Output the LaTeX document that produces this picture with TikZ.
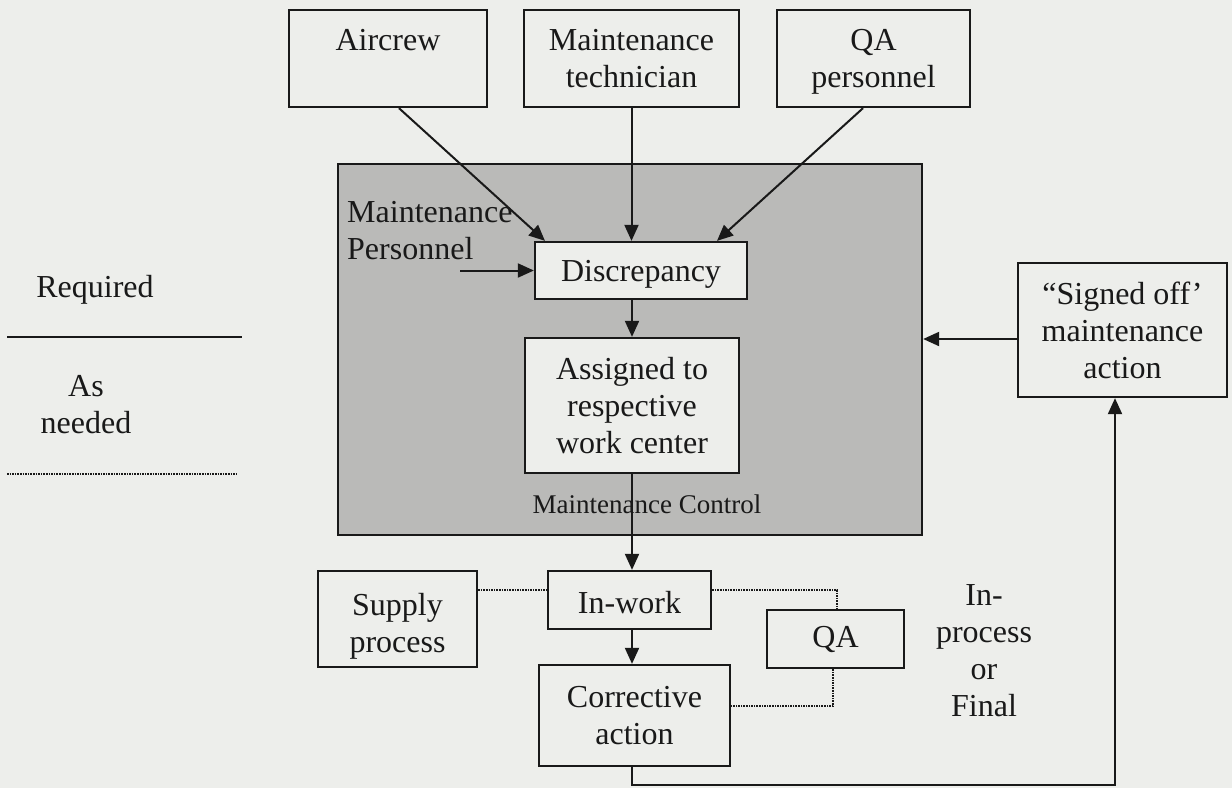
\documentclass[tikz,border=0pt]{standalone}
\usepackage{fontspec}
\setmainfont{Liberation Serif}
\usetikzlibrary{arrows.meta,calc}
\definecolor{bgc}{RGB}{237,238,235}
\definecolor{shadec}{RGB}{186,186,184}
\definecolor{inkc}{RGB}{25,25,25}
\newcommand{\nodep}[1]{\raisebox{0pt}[\height][0pt]{#1}}
\begin{document}
\begin{tikzpicture}[x=1pt,y=-1pt,
  txt/.style={font=\fontsize{32}{37}\selectfont, align=center, text=inkc},
  box/.style={txt, draw=inkc, line width=2.3pt, fill=bgc, inner sep=0pt},
  arr/.style={draw=inkc, line width=2pt, -{Triangle[length=16pt,width=14pt]}},
  link/.style={draw=inkc, line width=1.6pt, densely dotted},
  plain/.style={draw=inkc, line width=2.2pt}
]
\fill[bgc] (0,0) rectangle (1232,788);
\useasboundingbox (0,0) rectangle (1232,788);

% shaded maintenance control area
\node[draw=inkc, line width=2.3pt, fill=shadec, minimum width=584pt, minimum height=371pt, inner sep=0pt] (mc) at (630,349.5) {};

% top boxes
\node[box, minimum width=198pt, minimum height=97pt] (air) at (388,58.5) {Aircrew\\\phantom{A}};
\node[box, minimum width=215pt, minimum height=97pt] (mt) at (631.5,58.5) {Maintenance\\technician};
\node[box, minimum width=193pt, minimum height=97pt] (qap) at (873.5,58.5) {QA\\\nodep{personnel}};

% inner boxes
\node[box, minimum width=212pt, minimum height=57pt, text depth=0pt] (disc) at (641,270.5) {Discrepancy};
\node[box, minimum width=214pt, minimum height=135pt] (asg) at (632,405.5) {Assigned to\\respective\\work center};
\node[txt, anchor=north west, inner sep=0pt, align=left] (mp) at (347,201) {Maintenance\\Personnel};
\node[txt, font=\fontsize{27}{31}\selectfont, anchor=base, inner sep=0pt] (mcl) at (647,513) {Maintenance Control};

% right box
\node[box, minimum width=209pt, minimum height=134pt] (signed) at (1122.5,330) {“Signed off’\\maintenance\\action};

% lower boxes
\node[box, minimum width=159pt, minimum height=96pt] (supply) at (397.5,619) {\rule{0pt}{30pt}Supply\\\nodep{process}};
\node[box, minimum width=163pt, minimum height=58pt] (inwork) at (629.5,600) {\rule{0pt}{27pt}In-work};
\node[box, minimum width=137pt, minimum height=58pt] (qa) at (835.5,639) {QA};
\node[box, minimum width=191pt, minimum height=101pt] (corr) at (634.5,715.5) {Corrective\\action};
\node[txt, inner sep=0pt] (ipf) at (984,651) {In-\\process\\or\\Final};

% legend
\node[txt, inner sep=0pt] (req) at (95,290) {Required};
\coordinate (ls1) at (7,337);
\coordinate (ls2) at (242,337);
\draw[plain] (ls1) -- (ls2);
\node[txt, inner sep=0pt] (asn) at (86,405) {As\\needed};
\coordinate (ld1) at (7,474);
\coordinate (ld2) at (238,474);
\draw[link] (ld1) -- (ld2);

% arrows into discrepancy
\draw[arr] ([xshift=11pt]air.south) -- ([xshift=-96pt]disc.north);
\draw[arr] (mt.south) -- (mt.south |- disc.north);
\draw[arr] ([xshift=-10.5pt]qap.south) -- ([xshift=76pt]disc.north);
\coordinate (mpin) at (460,270.5);
\draw[arr] (mpin) -- (disc.west);

% main flow
\coordinate (cx) at (632,0);
\draw[arr] (disc.south -| cx) -- (asg.north -| cx);
\draw[arr] (asg.south -| cx) -- (inwork.north -| cx);
\draw[arr] (inwork.south -| cx) -- (corr.north -| cx);

% signed off feedback
\coordinate (sgy) at (0,339);
\draw[arr] (signed.west |- sgy) -- (mc.east |- sgy);
\coordinate (turnl) at (632,785);
\coordinate (turnr) at (1115,785);
\draw[arr] (corr.south -| cx) -- (turnl) -- (turnr) -- (signed.south -| turnr);

% dotted as-needed links
\coordinate (ly) at (0,590);
\draw[link] (supply.east |- ly) -- (inwork.west |- ly);
\coordinate (qt) at (837,590);
\draw[link] (inwork.east |- ly) -- (qt) -- (qa.north -| qt);
\coordinate (qb) at (833,706);
\draw[link] (qa.south -| qb) -- (qb) -- (corr.east |- qb);
\end{tikzpicture}
\end{document}
